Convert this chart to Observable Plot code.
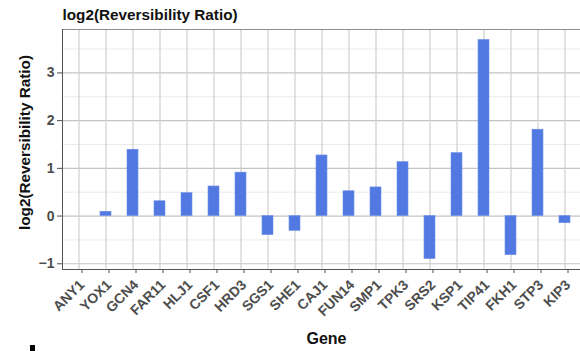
<!DOCTYPE html>
<html>
<head>
<meta charset="utf-8">
<script src="https://cdn.jsdelivr.net/npm/d3@7"></script>
<script src="https://cdn.jsdelivr.net/npm/@observablehq/plot@0.6"></script>
<style>
  html, body { margin: 0; padding: 0; background: #fff; }
  #wrap { position: relative; width: 580px; height: 351px; overflow: hidden; }
  #mark { position: absolute; left: 30px; top: 345px; width: 5px; height: 6px; background: #000; }
</style>
</head>
<body>
<div id="wrap"><div id="mark"></div></div>
<script>
// Gene order along the x axis
const genes = ["ANY1", "YOX1", "GCN4", "FAR11", "HLJ1", "CSF1", "HRD3", "SGS1", "SHE1",
  "CAJ1", "FUN14", "SMP1", "TPK3", "SRS2", "KSP1", "TIP41", "FKH1", "STP3", "KIP3"];
// log2 of the reversibility ratio per gene
const log2Ratio = [0.0, 0.09, 1.39, 0.31, 0.48, 0.62, 0.91, -0.40, -0.31,
  1.27, 0.52, 0.60, 1.13, -0.90, 1.32, 3.69, -0.82, 1.81, -0.15];
const yTicks = [-1, 0, 1, 2, 3];
const yMinor = [-0.5, 0.5, 1.5, 2.5, 3.5];

const data = genes.map((g, i) => ({gene: g, value: log2Ratio[i]}));

const font = "'Liberation Sans', Arial, Helvetica, sans-serif";

const chart = Plot.plot({
  width: 580,
  height: 351,
  marginTop: 29,
  marginBottom: 82,
  marginLeft: 62,
  marginRight: 0,
  style: {fontFamily: font, background: "#fff"},
  x: {domain: genes, paddingInner: 0.6, paddingOuter: 0.35, label: null},
  y: {domain: [-1.12, 3.91], label: null},
  marks: [
    // minor and major horizontal grid
    Plot.ruleY(yMinor, {stroke: "#ebebeb", strokeWidth: 1}),
    Plot.ruleY(yTicks, {stroke: "#c4c4c4", strokeWidth: 1.2}),
    // vertical grid at each gene
    Plot.ruleX(genes, {x: d => d, stroke: "#cfcfcf", strokeWidth: 1.2}),
    Plot.barY(data, {x: "gene", y: "value", fill: "#5179e1", stroke: "#6f8fe6", strokeWidth: 0.6}),
    Plot.frame({anchor: "top", stroke: "#8c8c8c"}),
    Plot.frame({anchor: "left", stroke: "#555"}),
    Plot.frame({anchor: "bottom", stroke: "#555"}),
    Plot.axisY({ticks: yTicks, tickSize: 5, tickPadding: 3, fontSize: 14, fontWeight: "bold",
      color: "#4d4d4d", label: null, tickFormat: d => d < 0 ? "\u2212" + Math.abs(d) : String(d)}),
    Plot.axisX({tickSize: 4, tickPadding: 9, tickRotate: -45, fontSize: 14, fontWeight: "bold",
      color: "#4d4d4d", label: null, dx: 3}),
    // titles
    Plot.text(["log2(Reversibility Ratio)"], {frameAnchor: "top-left", dy: -14, textAnchor: "start",
      lineAnchor: "middle", fontSize: 15.3, fontWeight: "bold", fill: "#111"}),
    Plot.text(["log2(Reversibility Ratio)"], {frameAnchor: "left", textAnchor: "middle", rotate: -90,
      dx: -37, dy: -7, fontSize: 15.3, fontWeight: "bold", fill: "#111"}),
    Plot.text(["Gene"], {frameAnchor: "bottom", textAnchor: "middle", lineAnchor: "middle", dy: 69, dx: 5,
      fontSize: 16, fontWeight: "bold", fill: "#111"})
  ]
});

document.getElementById("wrap").prepend(chart);
</script>
</body>
</html>
